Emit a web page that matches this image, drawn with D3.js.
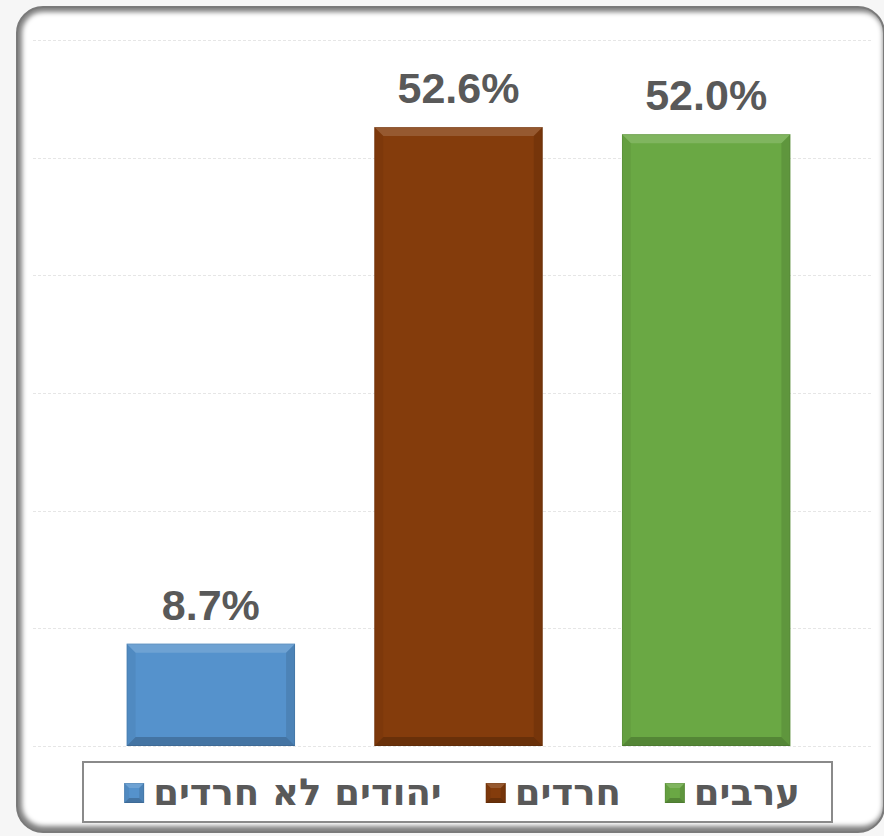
<!DOCTYPE html>
<html><head><meta charset="utf-8">
<script src="https://cdn.jsdelivr.net/npm/d3@7"></script>
<style>html,body{margin:0;padding:0;background:#f6f6f6;}svg{display:block;}</style>
</head><body>
<svg id="c" width="884" height="836"></svg>
<script>
const categories = ["יהודים לא חרדים", "חרדים", "ערבים"];
const values = [8.7, 52.6, 52.0];
const colors = ["#5592cc", "#843c0c", "#6aa844"];
const yTicks = [0, 10, 20, 30, 40, 50, 60];
const legendOrder = [2, 1, 0];

const svg = d3.select("#c");
const defs = svg.append("defs");

// frame
const fx = 17, fy = 7, fw = 867, fh = 825, fr = 26;
defs.append("clipPath").attr("id", "frameClip").append("rect")
  .attr("x", fx).attr("y", fy).attr("width", fw).attr("height", fh).attr("rx", fr);
const blur = defs.append("filter").attr("id", "blur").attr("x", "-20%").attr("y", "-20%").attr("width", "140%").attr("height", "140%");
blur.append("feGaussianBlur").attr("stdDeviation", 2.5);

svg.append("rect").attr("x", fx).attr("y", fy).attr("width", fw).attr("height", fh).attr("rx", fr).attr("fill", "#fff");
svg.append("g").attr("clip-path", "url(#frameClip)").append("rect")
  .attr("x", fx - 4).attr("y", fy + 4).attr("width", fw + 4).attr("height", fh - 1).attr("rx", fr)
  .attr("fill", "none").attr("stroke", "#000").attr("stroke-opacity", 0.5).attr("stroke-width", 10)
  .attr("transform", "translate(4,-4)").attr("filter", "url(#blur)");
svg.append("rect").attr("x", fx).attr("y", fy).attr("width", fw).attr("height", fh).attr("rx", fr)
  .attr("fill", "none").attr("stroke", "#7a7a7a").attr("stroke-width", 2);

// scales
const y = d3.scaleLinear().domain([0, 60]).range([746, 40]);
const x = d3.scaleBand().domain(categories).range([87, 830]).paddingInner(0.32).paddingOuter(0.16);

// gridlines
const grid = svg.append("g").attr("transform", "translate(33,0)")
  .call(d3.axisLeft(y).tickValues(yTicks).tickSize(-(872 - 33)).tickFormat(""));
grid.select(".domain").remove();
grid.selectAll(".tick line").attr("stroke", "#e6e6e6").attr("stroke-dasharray", "3,2").attr("shape-rendering", "crispEdges");

function bevel(g, x0, y0, w, h, color, b) {
  g.append("rect").attr("x", x0).attr("y", y0).attr("width", w).attr("height", h).attr("fill", color);
  const x1 = x0 + w, y1 = y0 + h;
  const pts = [
    [[x0, y0], [x1, y0], [x1 - b, y0 + b], [x0 + b, y0 + b]],
    [[x0, y0], [x0 + b, y0 + b], [x0 + b, y1 - b], [x0, y1]],
    [[x1, y0], [x1, y1], [x1 - b, y1 - b], [x1 - b, y0 + b]],
    [[x0, y1], [x0 + b, y1 - b], [x1 - b, y1 - b], [x1, y1]]
  ];
  const shades = [["#fff", 0.15], ["#000", 0.05], ["#000", 0.1], ["#000", 0.2]];
  pts.forEach((p, i) => {
    g.append("polygon").attr("points", p.map(d => d.join(",")).join(" "))
      .attr("fill", shades[i][0]).attr("fill-opacity", shades[i][1]);
  });
  g.append("rect").attr("x", x0 + 0.5).attr("y", y0 + 0.5).attr("width", w - 1).attr("height", h - 1)
    .attr("fill", "none").attr("stroke", "#000").attr("stroke-opacity", 0.08);
}

const bars = svg.append("g");
categories.forEach((c, i) => {
  bevel(bars.append("g"), x(c), y(values[i]), x.bandwidth(), y(0) - y(values[i]), colors[i], 9);
});

svg.append("g").selectAll("text").data(categories).join("text")
  .attr("x", d => x(d) + x.bandwidth() / 2)
  .attr("y", (d, i) => y(values[i]) - 24)
  .attr("text-anchor", "middle")
  .attr("font-family", "Liberation Sans, Arial, sans-serif").attr("font-weight", "bold")
  .attr("font-size", 43).attr("fill", "#595959")
  .text((d, i) => values[i].toFixed(1) + "%");

// legend
svg.append("rect").attr("x", 83).attr("y", 762).attr("width", 749).attr("height", 60)
  .attr("fill", "#fff").attr("stroke", "#8a8a8a").attr("stroke-width", 2);
const lg = svg.append("g");
let cx = 800;
legendOrder.forEach(i => {
  const t = lg.append("text").attr("x", cx).attr("y", 805).attr("text-anchor", "end")
    .attr("font-family", "DejaVu Sans, sans-serif").attr("font-weight", "bold")
    .attr("font-size", 37).attr("fill", "#595959").text(categories[i]);
  const w = t.node().getComputedTextLength();
  const sx = cx - w - 9 - 20;
  bevel(lg.append("g"), sx, 783, 20, 20, colors[i], 5);
  cx = sx - 44;
});
</script>
</body></html>
